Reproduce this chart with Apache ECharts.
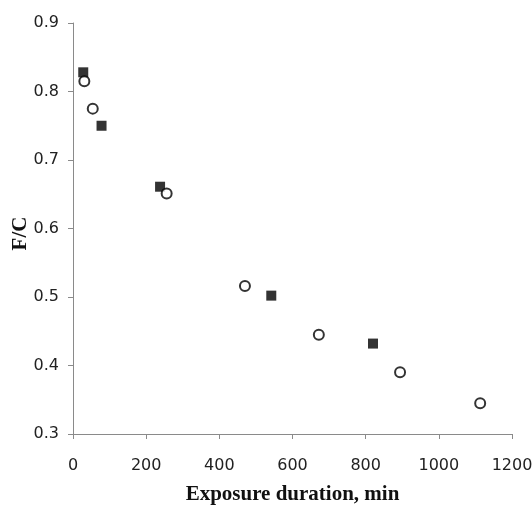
<!DOCTYPE html>
<html>
<head>
<meta charset="utf-8">
<script src="https://cdn.jsdelivr.net/npm/echarts@6/dist/echarts.min.js"></script>
<style>
    html, body {margin: 0; padding: 0; background: #fff;}
    #chart {width: 532px; height: 506px;}
</style>
</head>
<body>
<div id="chart"></div>
<script>
// exposure duration (min) / F/C ratio
const squareX = [28, 78, 238, 542, 820];
const squareY = [0.828, 0.750, 0.661, 0.502, 0.432];
const circleX = [31, 54, 256, 470, 672, 894, 1113];
const circleY = [0.815, 0.775, 0.651, 0.516, 0.445, 0.390, 0.345];

const pairs = (xs, ys) => xs.map((x, i) => [x, ys[i]]);

const axisLine = {show: true, lineStyle: {color: '#8a8a8a', width: 1}};
const axisTick = {show: true, inside: false, length: 5, lineStyle: {color: '#8a8a8a'}};
const tickFont = {color: '#222', fontSize: 16, fontFamily: 'DejaVu Sans, sans-serif'};
const nameFont = {color: '#111', fontSize: 21, fontWeight: 'bold', fontFamily: 'Liberation Serif, Times New Roman, serif'};

const options = {
    animation: false,
    grid: {left: 73, right: 20, top: 23, bottom: 72, containLabel: false, outerBoundsMode: 'none'},
    xAxis: {
        type: 'value',
        min: 0, max: 1200, interval: 200,
        name: 'Exposure duration, min',
        nameLocation: 'middle',
        nameGap: 50,
        nameMoveOverlap: false,
        nameTextStyle: nameFont,
        axisLine: axisLine,
        axisTick: axisTick,
        splitLine: {show: false},
        axisLabel: Object.assign({margin: 24, formatter: v => String(v)}, tickFont)
    },
    yAxis: {
        type: 'value',
        min: 0.3, max: 0.9, interval: 0.1,
        name: 'F/C',
        nameLocation: 'middle',
        nameGap: 42,
        nameMoveOverlap: false,
        nameTextStyle: Object.assign({padding: [0, 10, 0, 0]}, nameFont),
        axisLine: axisLine,
        axisTick: axisTick,
        splitLine: {show: false},
        axisLabel: Object.assign({margin: 14, formatter: v => v.toFixed(1)}, tickFont)
    },
    series: [
        {
            type: 'scatter',
            symbol: 'rect',
            symbolSize: 10,
            itemStyle: {color: '#000'},
            data: pairs(squareX, squareY),
            z: 2
        },
        {
            type: 'scatter',
            symbol: 'circle',
            symbolSize: 10,
            itemStyle: {color: '#fff', borderColor: '#000', borderWidth: 2},
            data: pairs(circleX, circleY),
            z: 3
        }
    ]
};

const myChart = echarts.init(document.getElementById('chart'), null, {renderer: 'canvas'});
myChart.setOption(options);
</script>
</body>
</html>
